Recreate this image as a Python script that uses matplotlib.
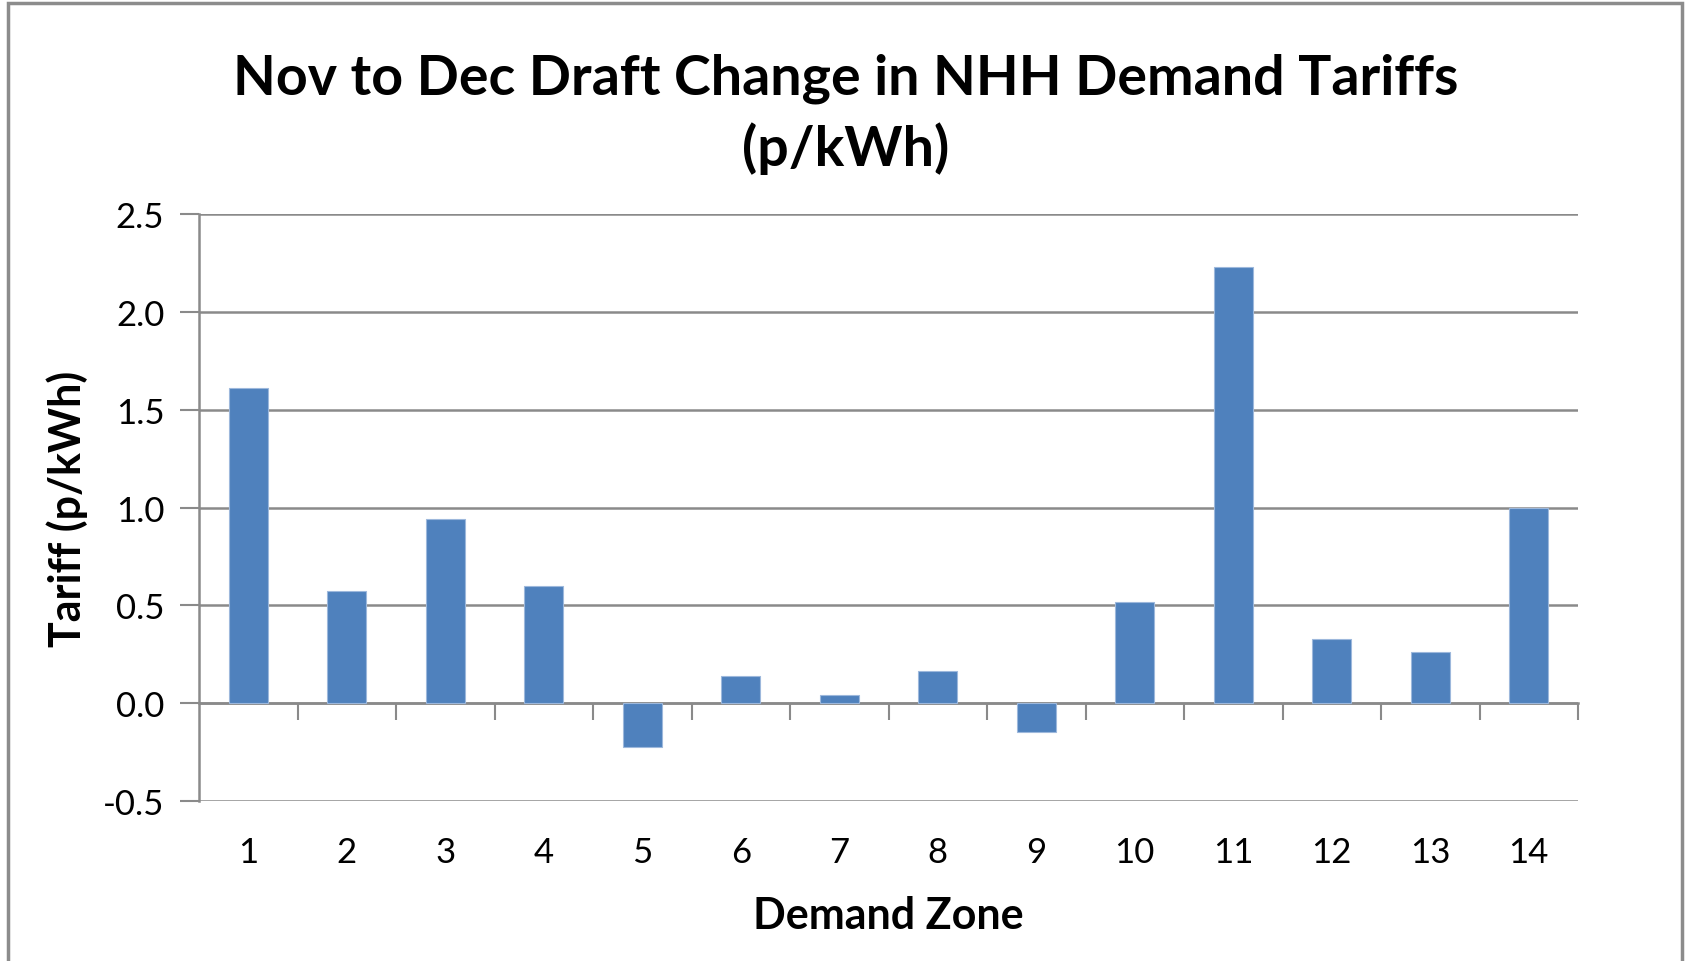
import matplotlib
matplotlib.use("Agg")
import matplotlib.pyplot as plt
from matplotlib.patches import Rectangle
import numpy as np

zones = [str(i) for i in range(1, 15)]
tariff_change = [1.61, 0.575, 0.94, 0.60, -0.224, 0.138, 0.041, 0.166,
                 -0.148, 0.518, 2.227, 0.328, 0.262, 1.0]
y_ticks = [-0.5, 0.0, 0.5, 1.0, 1.5, 2.0, 2.5]
title = "Nov to Dec Draft Change in NHH Demand Tariffs\n(p/kWh)"
xlabel = "Demand Zone"
ylabel = "Tariff (p/kWh)"

FONT = "Lato"
GRID = "#8a8a8a"
BAR = "#4F81BD"

fig = plt.figure(figsize=(16.88, 9.62), dpi=100)
ax = fig.add_axes([199/1688, 1-802/962, (1578-199)/1688, (802-215)/962])

x = np.arange(1, len(zones) + 1)
ax.bar(x, tariff_change, width=0.4, color=BAR, edgecolor="#9db8dc",
       linewidth=0.8, zorder=3)

ax.set_xlim(0.5, len(zones) + 0.5)
ax.set_ylim(min(y_ticks), max(y_ticks))
ax.set_yticks(y_ticks)
ax.set_yticklabels([f"{v:.1f}" for v in y_ticks], fontfamily=FONT, fontsize=25)
ax.yaxis.grid(True, color=GRID, linewidth=1.8, zorder=0)
ax.set_axisbelow(True)
ax.tick_params(axis="y", length=14, width=1.5, color=GRID, pad=11)

ax.set_xticks(x)
ax.set_xticklabels(zones, fontfamily=FONT, fontsize=25)
ax.tick_params(axis="x", length=0, pad=25)

for s in ["top", "right", "bottom"]:
    ax.spines[s].set_visible(False)
ax.spines["left"].set_color(GRID)
ax.spines["left"].set_linewidth(1.8)

# category axis crossing at zero with boundary tick marks
sec = ax.secondary_xaxis(0, transform=ax.transData)
sec.set_xticks(np.arange(1.5, len(zones) + 1, 1.0))
sec.set_xticklabels([])
sec.tick_params(axis="x", length=12, width=1.5, color=GRID, direction="out")
sec.spines["bottom"].set_color(GRID)
sec.spines["bottom"].set_linewidth(1.8)

ax.set_xlabel(xlabel, fontfamily=FONT, fontsize=31, fontweight="bold", labelpad=20)
ax.set_ylabel(ylabel, fontfamily=FONT, fontsize=31, fontweight="bold", labelpad=11)

fig.text(846/1688, 1-114/962, title, ha="center", va="center",
         fontfamily=FONT, fontsize=40, fontweight="bold", linespacing=1.42)

fig.patches.append(Rectangle((8/1688, -0.02), (1682-8)/1688, 1-4/962+0.02,
                             transform=fig.transFigure, fill=False,
                             edgecolor="#8c8c8c", linewidth=2.5))

fig.savefig("out.png", dpi=100)
